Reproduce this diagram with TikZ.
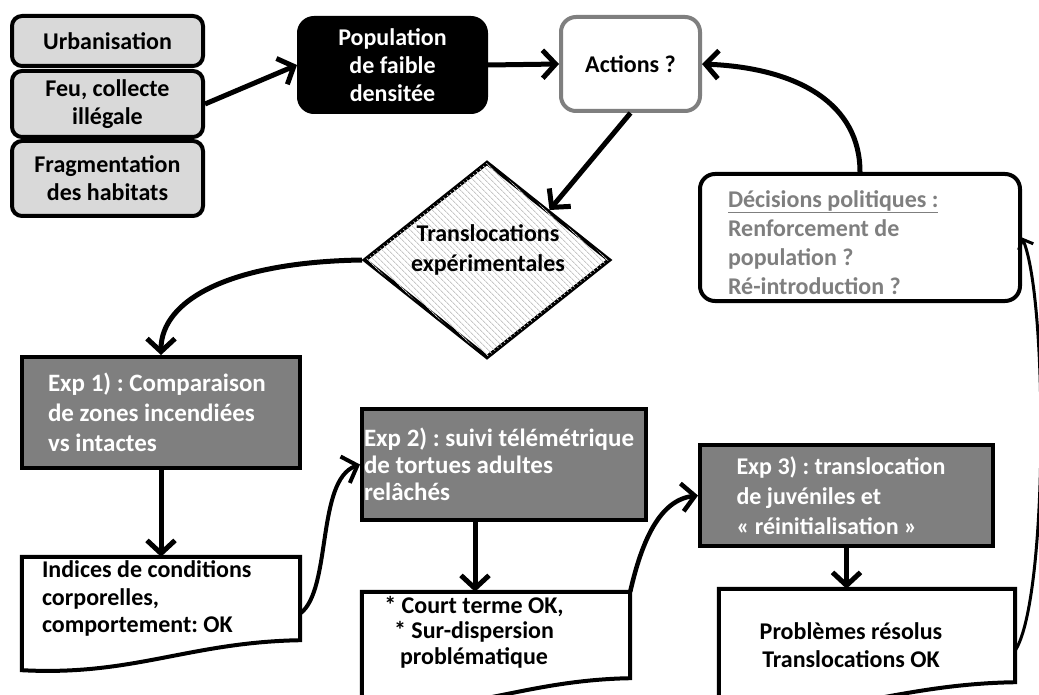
\documentclass[tikz,border=0pt]{standalone}
\usepackage{fontspec}
\setmainfont{Carlito}
\usetikzlibrary{arrows.meta,shapes.geometric,patterns.meta,calc}
\definecolor{lgray}{HTML}{D9D9D9}
\definecolor{mgray}{HTML}{7F7F7F}
\frenchspacing
\newcommand\nsp{\spaceskip=0pt\xspaceskip=0pt\relax}
\begin{document}
\begin{tikzpicture}[x=1pt,y=-1pt,
  txt/.style={font=\bfseries\fontsize{24}{28}\selectfont, inner sep=0pt},
  cause/.style={txt, draw=black, line width=4pt, fill=lgray, rounded corners=10pt,
    minimum width=191pt, align=center},
  popbox/.style={txt, draw=black, line width=4pt, fill=black, text=white, rounded corners=15pt,
    minimum width=187pt, minimum height=94pt, align=center},
  actbox/.style={txt, draw=mgray, line width=4pt, fill=white, rounded corners=15pt,
    minimum width=139pt, minimum height=94pt},
  decbox/.style={txt, draw=black, line width=4pt, fill=white, text=mgray, rounded corners=15pt,
    minimum width=320pt, minimum height=127pt, align=left, text width=264pt,
    font=\bfseries\fontsize{24}{29}\selectfont},
  expbox/.style={txt, draw=black, line width=4pt, fill=mgray, text=white, align=left,
    font=\bfseries\fontsize{24}{30}\selectfont},
  docbox/.style={inner sep=0pt, draw=none},
  docline/.style={draw=black, line width=4pt, fill=white, line join=miter},
  dtxt/.style={txt, align=center},
  arr/.style={line width=5pt, -{Straight Barb[length=13pt,width=28pt]}},
  arrthin/.style={line width=3pt, -{Straight Barb[length=8pt,width=16pt]}},
]
\clip (0,0) rectangle (1039,695);
\fill[white] (0,0) rectangle (1039,695);

% causes
\node[cause, minimum height=50pt] (urb) at (107.5,41) {Urbanisation};
\node[cause, minimum height=66pt] (feu) at (107.5,104) {Feu, collecte\\illégale};
\node[cause, minimum height=75pt] (frag) at (107.5,178.5) {Fragmentation\\des habitats};

\node[popbox] (pop) at (392.5,65) {Population\\de faible\\densitée};
\node[actbox] (act) at (630.5,64) {Actions ?};

% diamond
\node[diamond, draw=black, line width=4pt, fill=white,
  postaction={pattern={Lines[angle=-45,distance=4pt,line width=1pt]}, pattern color=black!22},
  minimum width=246pt, minimum height=196pt, aspect=1.255, inner sep=0pt] (dia) at (487,260) {};
\node[txt, align=center, font=\bfseries\fontsize{24}{30}\selectfont] (diatxt) at (488,250) {Translocations\\expérimentales};

% decisions
\node[decbox] (dec) at (860,237.5) {\nsp\rule{0pt}{27pt}\underline{Décisions politiques :}\\Renforcement de\\population ?\\Ré-introduction ?};

% experiments
\node[expbox, minimum width=278pt, minimum height=111pt, text width=226pt,
  font=\bfseries\fontsize{25}{30}\selectfont] (exp1) at (161,412.5)
  {\nsp Exp 1) : Comparaison\\de zones incendiées\\vs intactes};
\node[expbox, minimum width=284pt, minimum height=111pt, text width=280pt,
  font=\bfseries\fontsize{25}{27}\selectfont] (exp2) at (504,464.5)
  {\nsp Exp 2) : suivi télémétrique\\de tortues adultes\\relâchés};
\node[expbox, minimum width=293pt, minimum height=101pt, text width=220pt] (exp3) at (846.5,495.5)
  {\nsp Exp 3) : translocation\\de juvéniles et\\«~réinitialisation~»};

% documents
\node[docbox, minimum width=278pt, minimum height=113pt] (ind) at (161,613.5) {};
\node[docbox, minimum width=268pt, minimum height=116pt] (court) at (496,650) {};
\node[docbox, minimum width=296pt, minimum height=123pt] (prob) at (867,650.5) {};
\foreach \n in {ind,court,prob}{
  \draw[docline] (\n.north west) -- (\n.north east) -- ($(\n.south east)+(0,-30)$)
    .. controls ($(\n.south east)!0.4!(\n.south west)+(0,-28)$)
    and ($(\n.south west)!0.4!(\n.south east)+(0,6)$) .. (\n.south west) -- cycle;
}
\node[txt, align=left, text width=238pt, font=\bfseries\fontsize{24}{27.5}\selectfont] (indtxt) at (161,598.5)
  {\nsp Indices de conditions\\corporelles,\\comportement: OK};
\node[dtxt, font=\bfseries\fontsize{24}{25.5}\selectfont] (courttxt) at (474,632)
  {* Court terme OK,\\* Sur-dispersion\\problématique};
\node[dtxt] (probtxt) at (851,645) {Problèmes résolus\\Translocations OK};

% connectors
\draw[arr] (feu.east) -- (pop.west);
\draw[arr] (pop.east) -- (act.west);
\draw[arr] (act.south) -- (dia.north east);
\draw[arr] (dia.west) .. controls (230,262) and (161,300) .. (exp1.north);
\draw[arr] (exp1.south) -- (ind.north);
\draw[arr, line width=4pt] (ind.east) .. controls (332,590) and (316,480) .. (exp2.west);
\draw[arr] (exp2.south -| 475,0) -- (court.north -| 475,0);
\draw[arr, line width=4.5pt] (court.north east) .. controls (642,540) and (660,500) .. (exp3.west);
\draw[arr] (exp3.south) -- (exp3.south |- prob.north);
\draw[arrthin] (prob.east) .. controls (1048,600) and (1048,300) .. (dec.east);
\draw[arr] (dec.north -| 860,0) .. controls (860,105) and (800,68) .. (act.east);
\end{tikzpicture}
\end{document}
